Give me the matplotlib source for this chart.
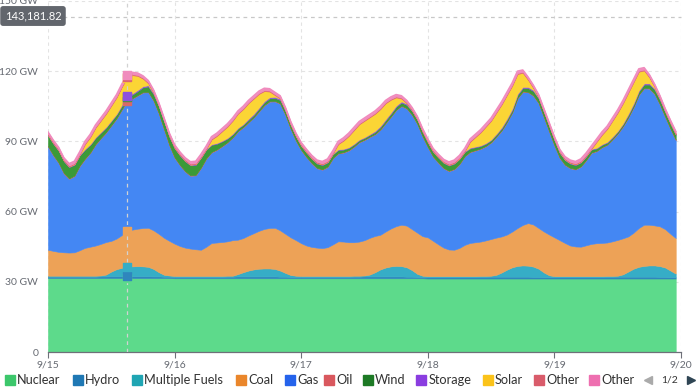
import matplotlib
matplotlib.use("Agg")
import matplotlib.pyplot as plt
from matplotlib.lines import Line2D
from matplotlib.transforms import Bbox
import numpy as np

plt.rcParams['font.family'] = ['Lato', 'DejaVu Sans']

W, H = 700, 392

day_labels = ['9/15', '9/16', '9/17', '9/18', '9/19', '9/20']
series_names = ['Nuclear', 'Hydro', 'Multiple Fuels', 'Coal', 'Gas', 'Oil',
                'Wind', 'Storage', 'Solar', 'Other', 'Other']

# hourly readings in GW, 9/15 00:00 .. 9/19 23:00 (one row per day)
nuclear = [
    31.6, 31.6, 31.6, 31.6, 31.6, 31.6, 31.6, 31.6, 31.6, 31.6, 31.6, 31.6, 31.6, 31.6, 31.6, 31.6, 31.6, 31.6, 31.6, 31.6, 31.6, 31.6, 31.6, 31.6,
    31.5, 31.5, 31.5, 31.5, 31.5, 31.5, 31.5, 31.5, 31.5, 31.5, 31.5, 31.5, 31.5, 31.5, 31.5, 31.5, 31.5, 31.5, 31.5, 31.5, 31.5, 31.5, 31.5, 31.5,
    31.5, 31.5, 31.5, 31.5, 31.5, 31.5, 31.5, 31.5, 31.5, 31.5, 31.5, 31.5, 31.5, 31.5, 31.5, 31.5, 31.5, 31.5, 31.5, 31.5, 31.5, 31.5, 31.5, 31.5,
    31.4, 31.4, 31.4, 31.4, 31.4, 31.4, 31.4, 31.4, 31.4, 31.4, 31.4, 31.4, 31.4, 31.4, 31.4, 31.4, 31.4, 31.4, 31.4, 31.4, 31.4, 31.4, 31.4, 31.4,
    31.4, 31.4, 31.4, 31.4, 31.4, 31.4, 31.4, 31.4, 31.4, 31.4, 31.4, 31.4, 31.4, 31.4, 31.4, 31.4, 31.4, 31.4, 31.4, 31.4, 31.4, 31.4, 31.4, 31.4,
]
hydro = [
    0.6, 0.6, 0.6, 0.6, 0.6, 0.6, 0.6, 0.6, 0.6, 0.6, 0.7, 0.7, 0.8, 0.8, 0.8, 0.8, 0.8, 0.8, 0.8, 0.8, 0.7, 0.7, 0.6, 0.6,
    0.6, 0.6, 0.6, 0.6, 0.6, 0.6, 0.6, 0.6, 0.6, 0.6, 0.7, 0.7, 0.8, 0.8, 0.8, 0.8, 0.8, 0.8, 0.8, 0.8, 0.7, 0.7, 0.6, 0.6,
    0.6, 0.6, 0.6, 0.6, 0.6, 0.6, 0.6, 0.6, 0.6, 0.6, 0.7, 0.7, 0.8, 0.8, 0.8, 0.8, 0.8, 0.8, 0.8, 0.8, 0.7, 0.7, 0.6, 0.6,
    0.6, 0.6, 0.6, 0.6, 0.6, 0.6, 0.6, 0.6, 0.6, 0.6, 0.7, 0.7, 0.8, 0.8, 0.8, 0.8, 0.8, 0.8, 0.8, 0.8, 0.7, 0.7, 0.6, 0.6,
    0.6, 0.6, 0.6, 0.6, 0.6, 0.6, 0.6, 0.6, 0.6, 0.6, 0.7, 0.7, 0.8, 0.8, 0.8, 0.8, 0.8, 0.8, 0.8, 0.8, 0.7, 0.7, 0.6, 0.6,
]
multi_fuels = [
    0.4, 0.4, 0.4, 0.4, 0.4, 0.4, 0.4, 0.4, 0.4, 0.4, 0.4, 0.8, 2.0, 3.0, 3.6, 4.0, 4.2, 4.3, 4.2, 4.0, 3.2, 1.8, 0.8, 0.5,
    0.4, 0.4, 0.4, 0.4, 0.4, 0.4, 0.4, 0.4, 0.4, 0.4, 0.4, 0.4, 1.0, 1.8, 2.5, 3.0, 3.3, 3.4, 3.4, 3.2, 2.6, 1.6, 0.8, 0.5,
    0.4, 0.4, 0.4, 0.4, 0.4, 0.4, 0.4, 0.4, 0.4, 0.4, 0.4, 0.4, 0.4, 0.8, 1.8, 3.0, 3.8, 4.3, 4.5, 4.4, 4.0, 2.8, 1.3, 0.5,
    0.4, 0.4, 0.4, 0.4, 0.4, 0.4, 0.4, 0.4, 0.4, 0.4, 0.4, 0.4, 0.4, 0.8, 1.8, 3.0, 4.0, 4.6, 4.8, 4.7, 4.4, 3.5, 2.0, 0.8,
    0.4, 0.4, 0.4, 0.4, 0.4, 0.4, 0.4, 0.4, 0.4, 0.4, 0.4, 0.4, 0.4, 1.0, 2.2, 3.4, 4.2, 4.6, 4.8, 4.8, 4.6, 4.0, 2.8, 1.5,
]
# top edge of the coal band (nuclear + hydro + multiple fuels + coal)
coal_top = [
    43.7, 43.2, 42.8, 42.6, 42.5, 42.6, 43.5, 44.5, 45.0, 45.5, 46.2, 47.0, 47.5, 48.5, 50.0, 51.6, 52.3, 52.7, 53.0, 53.1, 52.0, 50.5, 48.8, 47.5,
    46.3, 45.3, 44.6, 44.2, 43.9, 43.7, 45.0, 46.6, 46.8, 47.0, 47.3, 47.8, 48.0, 48.7, 49.8, 50.8, 51.8, 52.6, 53.0, 53.1, 52.0, 50.5, 49.0, 47.8,
    46.5, 45.5, 44.9, 44.6, 44.4, 44.8, 46.0, 47.3, 47.2, 46.9, 46.9, 47.2, 47.8, 48.8, 49.6, 50.1, 51.5, 52.8, 53.8, 54.4, 54.0, 52.5, 51.0, 49.5,
    49.0, 47.5, 46.0, 44.6, 43.8, 43.7, 44.5, 45.8, 46.6, 46.9, 47.2, 47.7, 48.3, 48.9, 49.4, 50.2, 51.5, 53.0, 54.3, 55.1, 54.5, 53.0, 51.5, 50.2,
    49.0, 47.8, 46.6, 45.5, 45.1, 45.0, 45.6, 46.2, 46.5, 46.6, 46.8, 47.3, 47.9, 48.6, 49.4, 51.0, 53.0, 54.4, 54.4, 54.1, 53.7, 52.5, 50.5, 48.7,
]
oil = [
    0.2, 0.2, 0.2, 0.2, 0.2, 0.2, 0.2, 0.2, 0.2, 0.2, 0.2, 0.2, 0.2, 0.2, 0.2, 0.2, 0.2, 0.2, 0.2, 0.2, 0.2, 0.2, 0.2, 0.2,
    0.2, 0.2, 0.2, 0.2, 0.2, 0.2, 0.2, 0.2, 0.2, 0.2, 0.2, 0.2, 0.2, 0.2, 0.2, 0.2, 0.2, 0.2, 0.2, 0.2, 0.2, 0.2, 0.2, 0.2,
    0.2, 0.2, 0.2, 0.2, 0.2, 0.2, 0.2, 0.2, 0.2, 0.2, 0.2, 0.2, 0.2, 0.2, 0.2, 0.2, 0.2, 0.2, 0.2, 0.2, 0.2, 0.2, 0.2, 0.2,
    0.2, 0.2, 0.2, 0.2, 0.2, 0.2, 0.2, 0.2, 0.2, 0.2, 0.2, 0.2, 0.2, 0.2, 0.2, 0.2, 0.2, 0.2, 0.2, 0.2, 0.2, 0.2, 0.2, 0.2,
    0.2, 0.2, 0.2, 0.2, 0.2, 0.2, 0.2, 0.2, 0.2, 0.2, 0.2, 0.2, 0.2, 0.2, 0.2, 0.2, 0.2, 0.2, 0.2, 0.2, 0.2, 0.2, 0.2, 0.2,
]
wind = [
    4.5, 4.8, 5.0, 5.0, 4.8, 4.6, 4.3, 3.8, 3.2, 2.6, 2.2, 1.9, 1.7, 1.5, 1.4, 1.4, 1.5, 1.7, 2.0, 2.3, 2.6, 2.9, 3.2, 3.5,
    3.8, 4.0, 4.2, 4.3, 4.3, 4.1, 3.6, 3.0, 2.4, 1.9, 1.5, 1.2, 1.0, 0.9, 0.9, 0.9, 1.0, 1.1, 1.2, 1.3, 1.4, 1.5, 1.5, 1.6,
    1.6, 1.7, 1.7, 1.8, 1.8, 1.7, 1.5, 1.3, 1.1, 0.9, 0.8, 0.7, 0.7, 0.7, 0.8, 0.9, 1.0, 1.1, 1.2, 1.3, 1.4, 1.5, 1.6, 1.7,
    1.8, 1.9, 2.0, 2.1, 2.2, 2.2, 2.0, 1.7, 1.4, 1.2, 1.0, 0.9, 0.8, 0.8, 0.8, 0.9, 1.0, 1.2, 1.4, 1.6, 1.8, 1.9, 2.0, 2.1,
    2.1, 2.0, 1.9, 1.8, 1.7, 1.6, 1.4, 1.2, 1.0, 0.9, 0.8, 0.7, 0.7, 0.8, 0.9, 1.0, 1.2, 1.4, 1.6, 1.7, 1.8, 1.9, 2.0, 2.0,
]
storage = [
    0.3, 0.3, 0.3, 0.3, 0.3, 0.3, 0.3, 0.3, 0.3, 0.3, 0.3, 0.3, 0.3, 0.3, 0.5, 0.5, 0.5, 0.5, 0.5, 0.5, 0.5, 0.3, 0.3, 0.3,
    0.3, 0.3, 0.3, 0.3, 0.3, 0.3, 0.3, 0.3, 0.3, 0.3, 0.3, 0.3, 0.3, 0.3, 0.5, 0.5, 0.5, 0.5, 0.5, 0.5, 0.5, 0.3, 0.3, 0.3,
    0.3, 0.3, 0.3, 0.3, 0.3, 0.3, 0.3, 0.3, 0.3, 0.3, 0.3, 0.3, 0.3, 0.3, 0.5, 0.5, 0.5, 0.5, 0.5, 0.5, 0.5, 0.3, 0.3, 0.3,
    0.3, 0.3, 0.3, 0.3, 0.3, 0.3, 0.3, 0.3, 0.3, 0.3, 0.3, 0.3, 0.3, 0.3, 0.5, 0.5, 0.5, 0.5, 0.5, 0.5, 0.5, 0.3, 0.3, 0.3,
    0.3, 0.3, 0.3, 0.3, 0.3, 0.3, 0.3, 0.3, 0.3, 0.3, 0.3, 0.3, 0.3, 0.3, 0.5, 0.5, 0.5, 0.5, 0.5, 0.5, 0.5, 0.3, 0.3, 0.3,
]
solar = [
    0.0, 0.0, 0.0, 0.0, 0.0, 0.0, 0.0, 2.0, 3.0, 4.0, 4.8, 5.6, 6.3, 7.0, 7.6, 8.0, 7.8, 6.0, 3.2, 0.8, 0.1, 0.0, 0.0, 0.0,
    0.0, 0.0, 0.0, 0.0, 0.0, 0.0, 0.0, 2.0, 3.0, 4.0, 4.8, 5.5, 6.0, 6.4, 6.6, 6.5, 5.8, 4.3, 2.4, 0.7, 0.1, 0.0, 0.0, 0.0,
    0.0, 0.0, 0.0, 0.0, 0.0, 0.0, 0.0, 2.2, 3.5, 4.8, 5.8, 6.5, 7.0, 7.2, 7.3, 7.2, 6.8, 5.5, 3.5, 1.2, 0.2, 0.0, 0.0, 0.0,
    0.0, 0.0, 0.0, 0.0, 0.0, 0.0, 0.0, 0.0, 2.5, 4.0, 5.5, 7.0, 8.0, 9.0, 9.7, 10.0, 9.8, 8.5, 6.0, 3.0, 0.8, 0.1, 0.0, 0.0,
    0.0, 0.0, 0.0, 0.0, 0.0, 0.0, 0.0, 0.0, 2.5, 4.0, 5.5, 6.8, 7.8, 8.6, 9.0, 9.0, 8.0, 5.5, 2.5, 0.6, 0.1, 0.0, 0.0, 0.0,
]
other_a = [
    0.4, 0.4, 0.4, 0.4, 0.4, 0.4, 0.4, 0.4, 0.4, 0.4, 0.4, 0.4, 0.4, 0.4, 0.4, 0.4, 0.4, 0.4, 0.4, 0.4, 0.4, 0.4, 0.4, 0.4,
    0.4, 0.4, 0.4, 0.4, 0.4, 0.4, 0.4, 0.4, 0.4, 0.4, 0.4, 0.4, 0.4, 0.4, 0.4, 0.4, 0.4, 0.4, 0.4, 0.4, 0.4, 0.4, 0.4, 0.4,
    0.4, 0.4, 0.4, 0.4, 0.4, 0.4, 0.4, 0.4, 0.4, 0.4, 0.4, 0.4, 0.4, 0.4, 0.4, 0.4, 0.4, 0.4, 0.4, 0.4, 0.4, 0.4, 0.4, 0.4,
    0.4, 0.4, 0.4, 0.4, 0.4, 0.4, 0.4, 0.4, 0.4, 0.4, 0.4, 0.4, 0.4, 0.4, 0.4, 0.4, 0.4, 0.4, 0.4, 0.4, 0.4, 0.4, 0.4, 0.4,
    0.4, 0.4, 0.4, 0.4, 0.4, 0.4, 0.4, 0.4, 0.4, 0.4, 0.4, 0.4, 0.4, 0.4, 0.4, 0.4, 0.4, 0.4, 0.4, 0.4, 0.4, 0.4, 0.4, 0.4,
]
other_b = [
    0.8, 0.8, 0.8, 0.8, 0.8, 0.8, 0.8, 0.8, 0.8, 0.8, 0.8, 0.8, 0.8, 0.8, 0.8, 0.8, 0.8, 0.8, 0.8, 0.8, 0.8, 0.8, 0.8, 0.8,
    0.8, 0.8, 0.8, 0.8, 0.8, 0.8, 0.8, 0.8, 0.8, 0.8, 0.8, 0.8, 0.8, 0.8, 0.8, 0.8, 0.8, 0.8, 0.8, 0.8, 0.8, 0.8, 0.8, 0.8,
    0.8, 0.8, 0.8, 0.8, 0.8, 0.8, 0.8, 0.8, 0.8, 0.8, 0.8, 0.8, 0.8, 0.8, 0.8, 0.8, 0.8, 0.8, 0.8, 0.8, 0.8, 0.8, 0.8, 0.8,
    0.8, 0.8, 0.8, 0.8, 0.8, 0.8, 0.8, 0.8, 0.8, 0.8, 0.8, 0.8, 0.8, 0.8, 0.8, 0.8, 0.8, 0.8, 0.8, 0.8, 0.8, 0.8, 0.8, 0.8,
    0.8, 0.8, 0.8, 0.8, 0.8, 0.8, 0.8, 0.8, 0.8, 0.8, 0.8, 0.8, 0.8, 0.8, 0.8, 0.8, 0.8, 0.8, 0.8, 0.8, 0.8, 0.8, 0.8, 0.8,
]
# top edge of the whole stack
total_top = [
    94.0, 90.5, 87.5, 83.0, 80.5, 81.5, 85.5, 90.0, 93.0, 97.0, 100.0, 103.0, 106.5, 110.0, 114.5, 118.5, 119.5, 119.2, 118.0, 116.0, 112.0, 106.5, 100.0, 93.5,
    88.5, 85.5, 83.0, 81.3, 81.5, 84.5, 88.0, 92.0, 93.5, 95.5, 97.5, 100.0, 103.0, 105.0, 107.5, 109.5, 111.5, 112.7, 112.5, 111.0, 109.5, 104.5, 98.5, 93.5,
    89.5, 86.6, 84.0, 82.0, 81.4, 82.5, 86.0, 90.0, 91.5, 93.5, 96.0, 98.5, 100.0, 101.5, 103.0, 105.0, 107.5, 109.0, 110.0, 109.5, 107.5, 104.5, 100.7, 95.5,
    91.0, 87.0, 84.5, 82.3, 81.2, 82.0, 84.0, 87.0, 91.0, 93.0, 95.0, 97.5, 100.0, 103.5, 107.0, 111.0, 115.0, 120.0, 120.5, 117.5, 114.0, 110.0, 104.0, 98.0,
    92.0, 86.6, 83.5, 82.0, 81.4, 82.5, 85.0, 88.0, 91.0, 94.0, 96.5, 100.0, 103.5, 107.5, 112.0, 116.5, 121.0, 121.5, 118.5, 114.4, 109.5, 104.0, 99.0, 94.3,
]

hover_hour = 15
hover_value = '143,181.82'
hover_level = 143.18

fill_colors = ['#5dda8b', '#2f86bd', '#36adc6', '#eda257', '#4487f3', '#d96868',
               '#3b9a37', '#8b52e0', '#fbd535', '#dc6470', '#f08bbd']
legend_colors = ['#3cc76b', '#1f78b4', '#1fa5b3', '#ea862b', '#2563eb', '#d9585e',
                 '#1d7a25', '#8a3de0', '#fbc31a', '#d95c6b', '#ee6fb0']
# left edge (px) of each legend swatch
legend_x = [5, 73, 132, 236, 285, 324, 363, 417, 483, 534, 589]

hours = np.arange(len(total_top))
nuc, hyd, mf = np.array(nuclear), np.array(hydro), np.array(multi_fuels)
coal = np.array(coal_top) - nuc - hyd - mf
upper = [np.array(a) for a in (oil, wind, storage, solar, other_a, other_b)]
gas = np.array(total_top) - np.array(coal_top) - sum(upper)
layers = [nuc, hyd, mf, coal, gas] + upper

fig = plt.figure(figsize=(W / 100, H / 100), dpi=100)
fig.patch.set_facecolor('white')
ax = fig.add_axes([48 / W, 1 - 352 / H, 633 / W, 351 / H])

base = np.zeros(len(hours))
tops = []
for vals, col in zip(layers, fill_colors):
    top = base + vals
    ax.fill_between(hours, base, top, facecolor=col, edgecolor=col, linewidth=0.4, zorder=2)
    tops.append(top)
    base = top
ax.plot(hours, tops[-1], color=fill_colors[-1], linewidth=1.2, zorder=3)

ax.set_xlim(0, 120)
ax.set_ylim(0, 150)
ax.set_xticks(np.arange(0, 121, 24))
ax.set_xticklabels(day_labels)
ax.set_yticks(np.arange(0, 151, 30))
ax.set_yticklabels(['0'] + ['%d GW' % v for v in range(30, 151, 30)])

for s in ('top', 'right', 'left'):
    ax.spines[s].set_visible(False)
ax.spines['bottom'].set_color('#6e7079')
ax.spines['bottom'].set_linewidth(0.9)
ax.spines['bottom'].set_zorder(4)
ax.tick_params(axis='y', length=0, pad=7, labelsize=7.5, labelcolor='#666a72')
ax.tick_params(axis='x', length=4, width=0.8, color='#6e7079', pad=2,
               labelsize=7.5, labelcolor='#666a72')
ax.grid(True, color='#e3e3e3', linewidth=0.8, linestyle=(0, (3, 3)), zorder=0)
ax.set_axisbelow(True)

# hover pointer
ax.axvline(hover_hour, color='#d2d2d2', linewidth=0.9, linestyle=(0, (3, 3)), zorder=5)
ax.axhline(hover_level, color='#c8c8c8', linewidth=0.9, linestyle=(0, (3, 3)), zorder=5, clip_on=False)
for top, col in zip(tops, fill_colors):
    ax.scatter([hover_hour], [top[hover_hour]], marker='s', s=30, color=col,
               edgecolors=col, zorder=6)
fig.text(33 / W, 1 - 16 / H, hover_value, ha='center', va='center', color='white',
         fontsize=8, bbox=dict(boxstyle='round,pad=0.4,rounding_size=0.25',
                               fc='#62666d', ec='none'))

# legend, swatches at the original's positions
ly = 380
for name, col, lx in zip(series_names, legend_colors, legend_x):
    fig.add_artist(Line2D([(lx + 4.5) / W], [1 - ly / H], marker='s', ms=6.5,
                          color=col, transform=fig.transFigure))
    t = fig.text((lx + 12) / W, 1 - ly / H, name, ha='left', va='center',
                 fontsize=9.2, color='#333333')
    t.set_clip_box(Bbox.from_extents(0, 0, 637, H))
    t.set_clip_on(True)

fig.add_artist(Line2D([648 / W], [1 - ly / H], marker='<', ms=6, color='#aaaaaa',
                      transform=fig.transFigure))
fig.text(670 / W, 1 - ly / H, '1/2', ha='center', va='center', fontsize=7.5, color='#333333')
fig.add_artist(Line2D([691 / W], [1 - ly / H], marker='>', ms=6, color='#2f4554',
                      transform=fig.transFigure))

fig.savefig('out.png', dpi=100, facecolor='white')
